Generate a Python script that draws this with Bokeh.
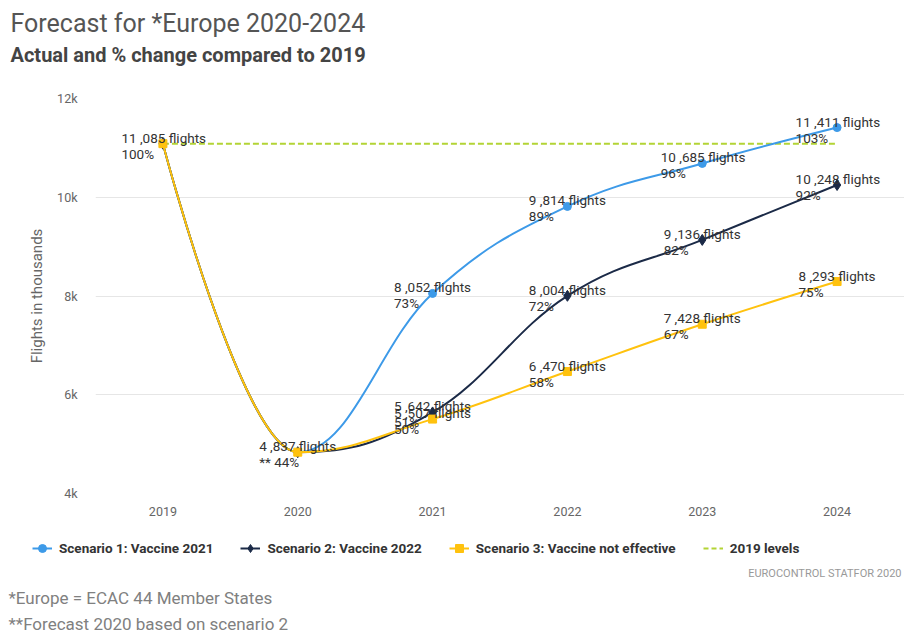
import numpy as np
from bokeh.plotting import figure
from bokeh.layouts import column
from bokeh.models import (Legend, LegendItem, FixedTicker, Range1d,
                          ColumnDataSource, Label)
from bokeh.core.properties import value
from bokeh.embed import file_html
from bokeh.resources import INLINE

# ---------------- data ----------------
years = [2019, 2020, 2021, 2022, 2023, 2024]
scenario1 = [11085, 4837, 8052, 9814, 10685, 11411]
scenario2 = [11085, 4837, 5642, 8004, 9136, 10248]
scenario3 = [11085, 4837, 5507, 6470, 7428, 8293]
pct1 = [100, 44, 73, 89, 96, 103]
pct2 = [100, 44, 51, 72, 82, 92]
pct3 = [100, 44, 50, 58, 67, 75]
level_2019 = 11085
forecast_year = 2020
series_names = ["Scenario 1: Vaccine 2021", "Scenario 2: Vaccine 2022",
                "Scenario 3: Vaccine not effective"]
level_name = "2019 levels"
y_ticks = [4000, 6000, 8000, 10000, 12000]
y_tick_labels = ["4k", "6k", "8k", "10k", "12k"]

# ---------------- style ----------------
C1 = "#3d9ae8"
C2 = "#1b2a47"
C3 = "#ffc20e"
CL = "#b3d435"
FONT = "Roboto"
W = 904
HEAD_H, CHART_H = 72, 451
FOOT_H = 632 - HEAD_H - CHART_H
TXT_SHIFT = 6  # measured baseline correction for labels


def text_panel(height):
    f = figure(width=W, height=height, x_range=Range1d(0, 1),
               y_range=Range1d(0, 1), output_backend="svg",
               toolbar_location=None, x_axis_location=None,
               y_axis_location=None, min_border=0, min_border_left=0,
               min_border_right=0, min_border_top=0, min_border_bottom=0,
               frame_align=False)
    f.outline_line_color = None
    f.grid.visible = False
    return f


def add_text(f, t, X, baseline_from_bottom, size, style, colr, align="left"):
    f.add_layout(Label(x=X, y=baseline_from_bottom + TXT_SHIFT,
                       x_units="screen", y_units="screen", text=t,
                       text_font=FONT, text_font_size=size,
                       text_font_style=style, text_color=colr,
                       text_baseline="alphabetic", text_align=align))


# ---------------- header ----------------
head = text_panel(HEAD_H)
add_text(head, "Forecast for *Europe 2020-2024", 10, HEAD_H - 29, "25px",
         "normal", "#555555")
add_text(head, "Actual and % change compared to 2019", 10, HEAD_H - 60,
         "20px", "bold", "#444444")

# ---------------- chart ----------------
p = figure(width=W, height=CHART_H,
           x_range=Range1d(2018.5, 2024.5), y_range=Range1d(4000, 12000),
           output_backend="svg", toolbar_location=None,
           min_border_left=95, min_border_right=0,
           min_border_top=26, min_border_bottom=30, frame_align=False)
p.outline_line_color = None
p.xgrid.grid_line_color = None
p.ygrid.grid_line_color = "#e6e6e6"
p.ygrid.grid_line_width = 1

p.xaxis.ticker = FixedTicker(ticks=years)
p.xaxis.major_label_overrides = {y: str(y) for y in years}
p.yaxis.ticker = FixedTicker(ticks=y_ticks)
p.ygrid.ticker = FixedTicker(ticks=y_ticks)
p.yaxis.major_label_overrides = dict(zip(y_ticks, y_tick_labels))

for ax in (p.xaxis, p.yaxis):
    ax.axis_line_color = None
    ax.major_tick_line_color = None
    ax.minor_tick_line_color = None
    ax.major_tick_in = 0
    ax.major_tick_out = 0
    ax.major_label_text_font = FONT
    ax.major_label_text_font_size = "12.5px"
    ax.major_label_text_color = "#666666"

p.xaxis.major_label_standoff = 13
p.yaxis.major_label_standoff = 18
p.yaxis.axis_label = "Flights in thousands"
p.yaxis.axis_label_text_font = FONT
p.yaxis.axis_label_text_font_size = "15px"
p.yaxis.axis_label_text_font_style = "normal"
p.yaxis.axis_label_text_color = "#666666"
p.yaxis.axis_label_standoff = 8


# ---------------- smooth (spline) curves through the data ----------------
def spline_segments(xs, ys, smoothing=1.5):
    n = len(xs)
    left = [None] * n
    right = [None] * n
    d = smoothing + 1
    for i in range(1, n - 1):
        px, py = xs[i], ys[i]
        lx, ly = xs[i - 1], ys[i - 1]
        nx, ny = xs[i + 1], ys[i + 1]
        lcx = (smoothing * px + lx) / d
        lcy = (smoothing * py + ly) / d
        rcx = (smoothing * px + nx) / d
        rcy = (smoothing * py + ny) / d
        if rcx != lcx:
            corr = ((rcy - lcy) * (rcx - px)) / (rcx - lcx) + py - rcy
            lcy += corr
            rcy += corr
            if lcy > ly and lcy > py:
                lcy = max(ly, py)
                rcy = 2 * py - lcy
            elif lcy < ly and lcy < py:
                lcy = min(ly, py)
                rcy = 2 * py - lcy
            if rcy > ny and rcy > py:
                rcy = max(ny, py)
                lcy = 2 * py - rcy
            elif rcy < ny and rcy < py:
                rcy = min(ny, py)
                lcy = 2 * py - rcy
        left[i] = (lcx, lcy)
        right[i] = (rcx, rcy)
    seg = dict(x0=[], y0=[], x1=[], y1=[], cx0=[], cy0=[], cx1=[], cy1=[])
    for i in range(n - 1):
        c0 = right[i] if right[i] is not None else (xs[i], ys[i])
        c1 = left[i + 1] if left[i + 1] is not None else (xs[i + 1], ys[i + 1])
        seg["x0"].append(xs[i]); seg["y0"].append(ys[i])
        seg["x1"].append(xs[i + 1]); seg["y1"].append(ys[i + 1])
        seg["cx0"].append(c0[0]); seg["cy0"].append(c0[1])
        seg["cx1"].append(c1[0]); seg["cy1"].append(c1[1])
    return ColumnDataSource(seg)


# 2019 level line
p.line(x=[years[0], years[-1]], y=[level_2019, level_2019],
       line_color=CL, line_width=2, line_dash="6 3")

series = [(scenario1, pct1, C1, "circle", 8),
          (scenario2, pct2, C2, "diamond", 11),
          (scenario3, pct3, C3, "square", 8)]

for vals, pcts, col, mk, sz in series:
    src = spline_segments(years, vals)
    p.bezier(x0="x0", y0="y0", x1="x1", y1="y1", cx0="cx0", cy0="cy0",
             cx1="cx1", cy1="cy1", source=src, line_color=col, line_width=2)
    p.scatter(x=years, y=vals, marker=mk, size=sz, fill_color=col,
              line_color=col)


# ---------------- data labels ----------------
def fmt_flights(v):
    return f"{v // 1000} ,{v % 1000:03d} flights"


def fmt_pct(yr, pc):
    return ("** " if yr == forecast_year else "") + f"{pc}%"


CHAR_W = 5.8
for k, (vals, pcts, col, mk, sz) in enumerate(series):
    xs, ys, l1, l2, xo = [], [], [], [], []
    for i, yr in enumerate(years):
        # shared points are labelled once (by the last series)
        if k < len(series) - 1 and vals[i] == series[-1][0][i]:
            continue
        t1 = fmt_flights(vals[i])
        xs.append(yr); ys.append(vals[i])
        l1.append(t1); l2.append(fmt_pct(yr, pcts[i]))
        xo.append(-len(t1) * CHAR_W / 2 + 2)
    src = ColumnDataSource(dict(x=xs, y=ys, l1=l1, l2=l2, xo=xo))
    for col_name, yo in (("l1", -6), ("l2", 10)):
        p.text(x="x", y="y", text=col_name, source=src, x_offset="xo",
               y_offset=yo, text_align="left", text_baseline="middle",
               text_font=value(FONT), text_font_size="13.5px",
               text_color="#333333")

# ---------------- footer: legend and notes ----------------
foot = text_panel(FOOT_H)
# legend proxies: the series drawn in the footer, whose range shows none of them
leg_items = []
for (vals, pcts, col, mk, sz), name in zip(series, series_names):
    r_line = foot.line(x=years, y=vals, line_color=col, line_width=2)
    r_mark = foot.scatter(x=years, y=vals, marker=mk, fill_color=col,
                          line_color=col)
    leg_items.append(LegendItem(label=name, renderers=[r_line, r_mark]))
r_lvl = foot.line(x=[years[0], years[-1]], y=[level_2019, level_2019],
                  line_color=CL, line_width=2, line_dash="5 3")
leg_items.append(LegendItem(label=level_name, renderers=[r_lvl]))

legend = Legend(items=leg_items, location=(32, FOOT_H - (558 - 523)),
                orientation="horizontal", padding=0, margin=0, spacing=27,
                label_standoff=7, glyph_width=20, glyph_height=20,
                label_height=20, border_line_color=None,
                background_fill_alpha=0, label_text_font=FONT,
                label_text_font_style="bold", label_text_font_size="13.5px",
                label_text_color="#333333")
foot.add_layout(legend, "center")

add_text(foot, "EUROCONTROL STATFOR 2020", 901, 632 - 579, "11px",
         "normal", "#999999", align="right")
add_text(foot, "*Europe = ECAC 44 Member States", 8, 632 - 603, "17px",
         "normal", "#808080")
add_text(foot, "**Forecast 2020 based on scenario 2", 8, 632 - 629, "17px",
         "normal", "#808080")

layout = column(head, p, foot, spacing=0)
open("out.html", "w").write(file_html(layout, INLINE))
